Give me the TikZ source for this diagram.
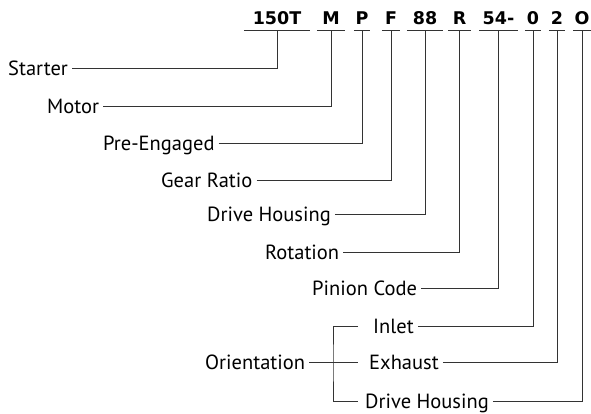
\documentclass[tikz,border=0pt]{standalone}
\usepackage{fontspec}
\newfontfamily\partfam{PT Sans}
\newfontfamily\codefam{DejaVu Sans}
\tikzset{
    code/.style = {
        font = \codefam\bfseries\fontsize{17.5}{20}\selectfont,
        anchor = base,
        inner xsep = 0pt,
        minimum width = #1,
        },
    part/.style = {
        font = \partfam\fontsize{20.5}{24}\selectfont,
        anchor = west,
        inner xsep = 4pt,
        text height = 14pt,
        text depth = 0pt,
        },
    lead/.style = {
        draw = black!80,
        line width = 0.8pt,
        },
}

\begin{document}
\begin{tikzpicture}[x=1pt, y=-1pt]
    \useasboundingbox (0,0) rectangle (591,413);

    % the model code
    \node [code=66] (n150T) at (277,24) {150T};
    \node [code=28] (nM)    at (331,24) {M};
    \node [code=16] (nP)    at (362,24) {P};
    \node [code=18] (nF)    at (391,24) {F};
    \node [code=36] (n88)   at (425,24) {88};
    \node [code=23] (nR)    at (459.5,24) {R};
    \node [code=38] (n54)   at (498.5,24) {54-};
    \node [code=16] (n0)    at (533,24) {0};
    \node [code=16] (n2)    at (557,24) {2};
    \node [code=17] (nO)    at (582,24) {O};

    % what each part means
    \node [part] (starter)  at (4,68)    {Starter};
    \node [part] (motor)    at (43,106)  {Motor};
    \node [part] (preeng)   at (99,143)  {Pre-Engaged};
    \node [part] (gear)     at (157,180) {Gear Ratio};
    \node [part] (housing)  at (203,214) {Drive Housing};
    \node [part] (rotation) at (261,252) {Rotation};
    \node [part] (pinion)   at (308,288) {Pinion Code};
    \node [part] (inlet)    at (369,326) {Inlet};
    \node [part] (exhaust)  at (365,362) {Exhaust};
    \node [part] (drivehsg) at (361,401) {Drive Housing};
    \node [part] (orient)   at (201,362) {Orientation};

    \foreach \cd in {n150T,nM,nP,nF,n88,nR,n54,n0,n2,nO}
        \draw [lead] ([yshift=-6pt]\cd.base west) -- ([yshift=-6pt]\cd.base east);

    \foreach \lbl/\cd in {starter/n150T, motor/nM, preeng/nP, gear/nF, housing/n88,
                          rotation/nR, pinion/n54, inlet/n0, exhaust/n2, drivehsg/nO}
        \draw [lead] (\lbl.east) -| ([yshift=-6pt]\cd.base);

    % bracket for the orientation
    \coordinate (otop) at (358,326);
    \coordinate (omid) at (358,362);
    \coordinate (obot) at (358,401);
    \coordinate (ojoin) at (333,362);
    \draw [lead] (otop) -| (ojoin) |- (obot);
    \draw [lead] (orient.east) -- (omid);
\end{tikzpicture}
\end{document}
